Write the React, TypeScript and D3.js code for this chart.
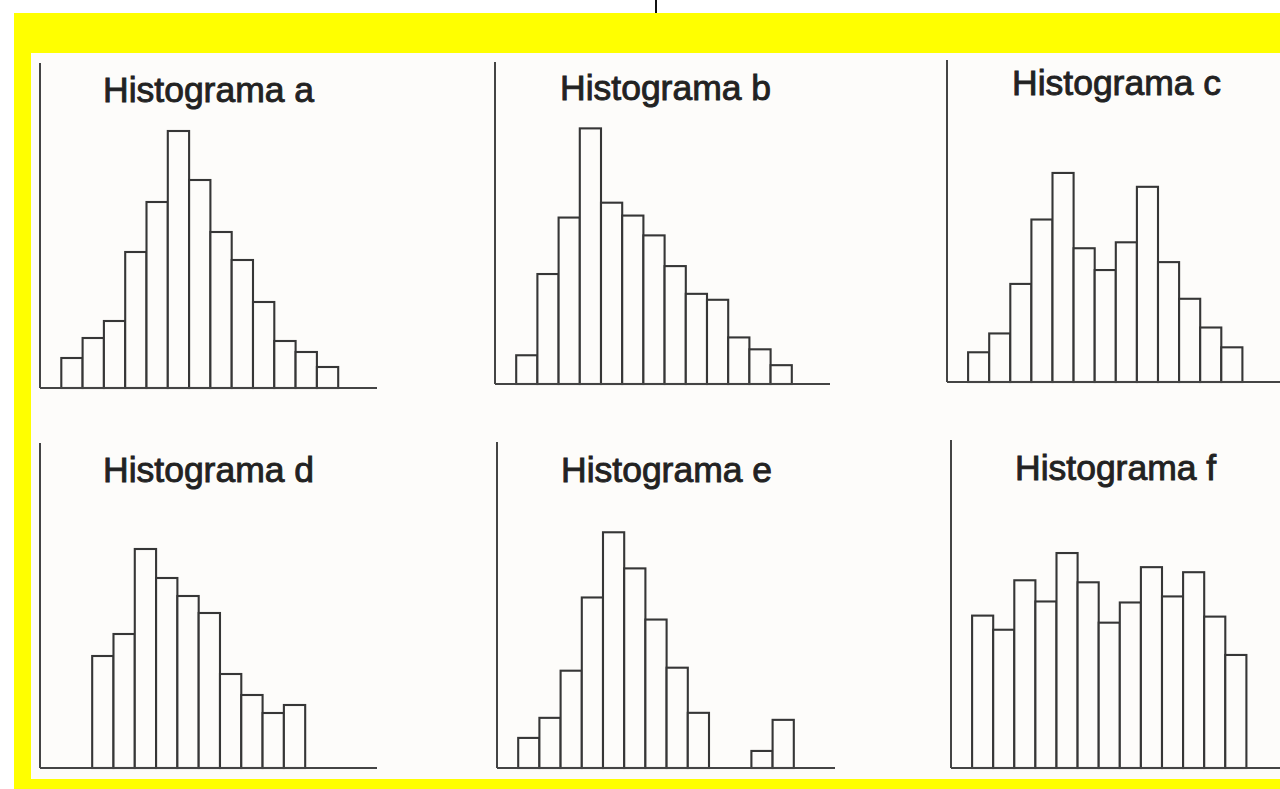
import React from "react";
import * as d3 from "d3";

// bar heights (axis full height = 325 units)
const countsA = [30, 50, 67, 136, 186, 257, 208, 156, 128, 86, 47, 36, 21];
const countsB = [29, 111, 168, 258, 183, 170, 150, 119, 91, 85, 47, 35, 19];
const countsC = [30, 49, 99, 164, 211, 135, 113, 141, 197, 121, 84, 55, 35];
const countsD = [112, 134, 219, 190, 172, 155, 94, 73, 55, 63];
const countsE = [30, 50, 97, 170, 235, 199, 148, 100, 55, 0, 0, 17, 48];
const countsF = [151, 137, 186, 165, 213, 184, 144, 164, 199, 170, 194, 150, 112];

// first bin (in bin units from the y axis)
const binStarts = [1, 1, 1, 2.45, 1, 1];
const titles = ["Histograma a", "Histograma b", "Histograma c", "Histograma d", "Histograma e", "Histograma f"];
const allCounts = [countsA, countsB, countsC, countsD, countsE, countsF];

const Y_MAX = 325;

// panel frames
const PANELS = [
  { x0: 40, xEnd: 377, yTop: 63, yBase: 388, binW: 21.3, tx: 103, ty: 102 },
  { x0: 495, xEnd: 830, yTop: 62, yBase: 384, binW: 21.2, tx: 560, ty: 100 },
  { x0: 947, xEnd: 1280, yTop: 60, yBase: 382, binW: 21.1, tx: 1012, ty: 95 },
  { x0: 40, xEnd: 377, yTop: 443, yBase: 768, binW: 21.3, tx: 103, ty: 482 },
  { x0: 497, xEnd: 835, yTop: 442, yBase: 768, binW: 21.2, tx: 561, ty: 482 },
  { x0: 951, xEnd: 1280, yTop: 440, yBase: 768, binW: 21.1, tx: 1015, ty: 480 },
];

const PAPER = "#fdfcfa";
const INK = "#363636";

const Histogram = ({ idx }: { idx: number }) => {
  const p = PANELS[idx];
  const counts = allCounts[idx];
  const start = binStarts[idx];
  const nBins = 16;
  const x = d3.scaleLinear().domain([0, nBins]).range([p.x0, p.x0 + nBins * p.binW]);
  const y = d3.scaleLinear().domain([0, Y_MAX]).range([p.yBase, p.yTop]);

  return (
    <g>
      {counts.map((c, i) =>
        c > 0 ? (
          <rect
            key={i}
            x={x(start + i)}
            y={y(c)}
            width={x(start + i + 1) - x(start + i)}
            height={y(0) - y(c)}
            fill={PAPER}
            stroke={INK}
            strokeWidth={2.1}
          />
        ) : null
      )}
      <line x1={p.x0} x2={p.x0} y1={p.yTop} y2={p.yBase} stroke="#444" strokeWidth={2} />
      <line x1={p.x0} x2={p.xEnd} y1={p.yBase} y2={p.yBase} stroke="#444" strokeWidth={2.2} />
      <text
        x={p.tx}
        y={p.ty}
        fontFamily="'Liberation Sans', Arial, sans-serif"
        fontSize={35.5}
        fill="#222"
        stroke="#222"
        strokeWidth={0.9}
      >
        {titles[idx]}
      </text>
    </g>
  );
};

export default function App() {
  return (
    <svg
      width={1280}
      height={789}
      style={{ position: "absolute", left: 0, top: 0, display: "block", background: "#fff" }}
    >
      <rect x={0} y={0} width={1280} height={789} fill="#fff" />
      <line x1={656} x2={656} y1={0} y2={13} stroke="#111" strokeWidth={2} />
      <rect x={14} y={13} width={1266} height={776} fill="#ffff00" />
      <rect x={31} y={53} width={1249} height={726} fill={PAPER} />
      {PANELS.map((_, i) => (
        <Histogram key={i} idx={i} />
      ))}
    </svg>
  );
}
